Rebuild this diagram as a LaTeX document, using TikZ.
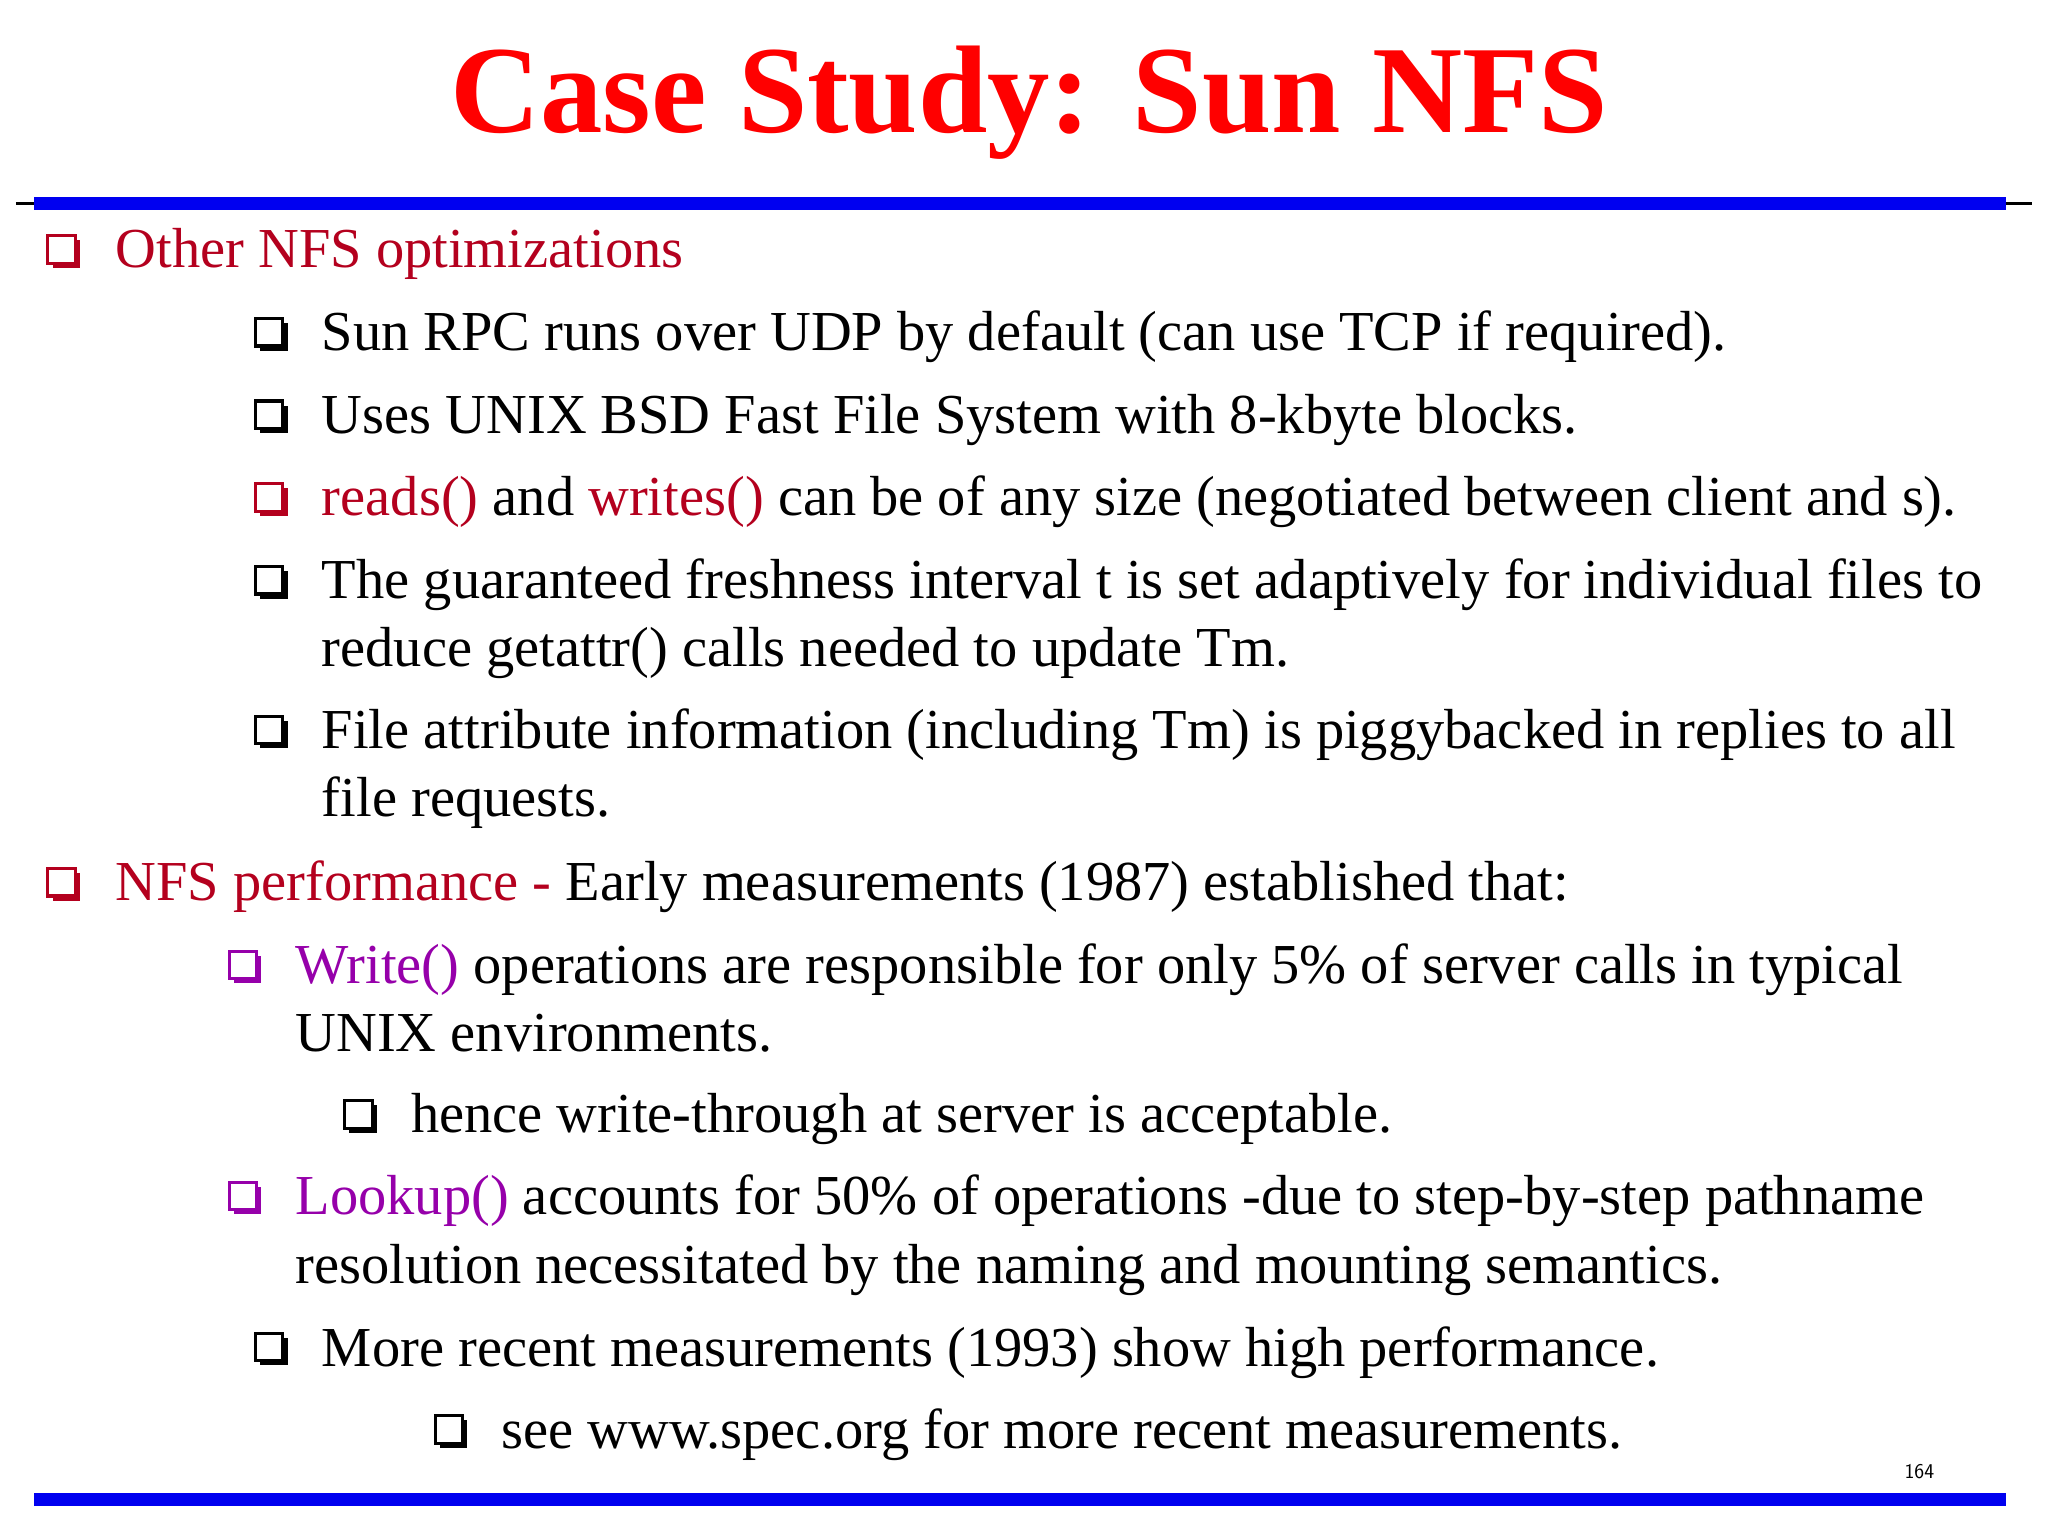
\documentclass[tikz,border=0pt]{standalone}
\usepackage{fontspec}
\setmainfont{Liberation Serif}
\usetikzlibrary{shadows}
\definecolor{dred}{RGB}{180,0,30}
\definecolor{pur}{RGB}{150,0,170}
\definecolor{tred}{RGB}{255,0,0}
\definecolor{lblue}{RGB}{0,0,240}
\tikzset{
 bul/.style={draw=#1,fill=white,line width=2.4pt,minimum size=21pt,inner sep=0pt,
   drop shadow={shadow xshift=3.5pt,shadow yshift=-3.5pt,opacity=1,fill=#1}},
 bul/.default=black,
 txt/.style={anchor=base west,inner sep=0pt,font=\fontsize{43}{50}\selectfont},
}
\begin{document}
\begin{tikzpicture}[x=1pt,y=-1pt]
\useasboundingbox[fill=white] (0,0) rectangle (1560,1170);
\node[font=\bfseries\fontsize{95}{105}\selectfont,text=tred,inner sep=0] (title) at (784,78) {Case Study: Sun NFS};
\draw[line width=2.5pt] (12,155) -- (1548,155);
\draw[lblue,line width=10pt] (26,155) -- (1528,155);
\draw[lblue,line width=10pt] (26,1142) -- (1528,1142);
\node[font=\sffamily\fontsize{16}{18}\selectfont,inner sep=0] (pg) at (1462,1121) {164};

\node[bul=dred] (b1) at (47,190) {};
\node[txt,text=dred] (t1) at (88,204) {Other NFS optimizations};
\node[bul] (b2) at (205,253) {};
\node[txt] (t2) at (245,267) {Sun RPC runs over UDP by default (can use TCP if required).};
\node[bul] (b3) at (205,316) {};
\node[txt] (t3) at (245,330) {Uses UNIX BSD Fast File System with 8-kbyte blocks.};
\node[bul=dred] (b4) at (205,379) {};
\node[txt] (t4) at (245,393) {\textcolor{dred}{reads()} and \textcolor{dred}{writes()} can be of any size (negotiated between client and s).};
\node[bul] (b5) at (205,442) {};
\node[txt] (t5) at (245,456) {The guaranteed freshness interval t is set adaptively for individual files to};
\node[txt] (t5b) at (245,508) {reduce getattr() calls needed to update Tm.};
\node[bul] (b6) at (205,556) {};
\node[txt] (t6) at (245,570) {File attribute information (including Tm) is piggybacked in replies to all};
\node[txt] (t6b) at (245,622) {file requests.};
\node[bul=dred] (b7) at (47,672) {};
\node[txt] (t7) at (88,686) {\textcolor{dred}{NFS performance -} Early measurements (1987) established that:};
\node[bul=pur] (b8) at (185,735) {};
\node[txt] (t8) at (225,749) {\textcolor{pur}{Write()} operations are responsible for only 5\% of server calls in typical};
\node[txt] (t8b) at (225,801) {UNIX environments.};
\node[bul] (b9) at (273,849) {};
\node[txt] (t9) at (313,863) {hence write-through at server is acceptable.};
\node[bul=pur] (b10) at (185,911) {};
\node[txt] (t10) at (225,925) {\textcolor{pur}{Lookup()} accounts for 50\% of operations -due to step-by-step pathname};
\node[txt] (t10b) at (225,978) {resolution necessitated by the naming and mounting semantics.};
\node[bul] (b11) at (205,1026) {};
\node[txt] (t11) at (245,1041) {More recent measurements (1993) show high performance.};
\node[bul] (b12) at (342,1089) {};
\node[txt] (t12) at (382,1103) {see www.spec.org for more recent measurements.};
\end{tikzpicture}
\end{document}
